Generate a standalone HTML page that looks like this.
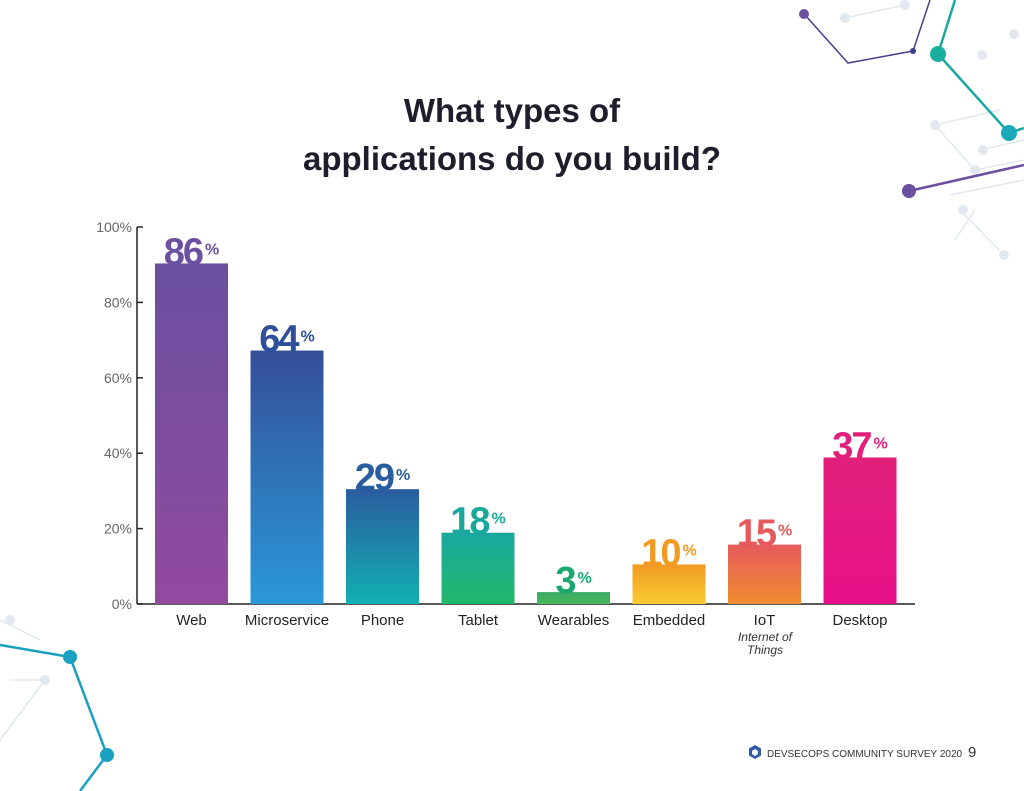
<!DOCTYPE html>
<html><head><meta charset="utf-8"><style>
html,body{margin:0;padding:0;background:#fff;}
svg{display:block;font-family:"Liberation Sans",sans-serif;}
</style></head><body>
<svg width="1024" height="791" viewBox="0 0 1024 791">
<defs>
<linearGradient id="g0" x1="0" y1="0" x2="0" y2="1"><stop offset="0" stop-color="#6a4fa0"/><stop offset="1" stop-color="#924a9e"/></linearGradient>
<linearGradient id="g1" x1="0" y1="0" x2="0" y2="1"><stop offset="0" stop-color="#344f98"/><stop offset="1" stop-color="#2a98d8"/></linearGradient>
<linearGradient id="g2" x1="0" y1="0" x2="0" y2="1"><stop offset="0" stop-color="#2a5ca0"/><stop offset="1" stop-color="#12b0b0"/></linearGradient>
<linearGradient id="g3" x1="0" y1="0" x2="0" y2="1"><stop offset="0" stop-color="#1aa8a0"/><stop offset="1" stop-color="#22b86a"/></linearGradient>
<linearGradient id="g4" x1="0" y1="0" x2="0" y2="1"><stop offset="0" stop-color="#3aa868"/><stop offset="1" stop-color="#48b858"/></linearGradient>
<linearGradient id="g5" x1="0" y1="0" x2="0" y2="1"><stop offset="0" stop-color="#f29a22"/><stop offset="1" stop-color="#f8cc30"/></linearGradient>
<linearGradient id="g6" x1="0" y1="0" x2="0" y2="1"><stop offset="0" stop-color="#e65a5c"/><stop offset="1" stop-color="#f08c30"/></linearGradient>
<linearGradient id="g7" x1="0" y1="0" x2="0" y2="1"><stop offset="0" stop-color="#e0207a"/><stop offset="1" stop-color="#e8108a"/></linearGradient>
</defs>
<g fill="none">
<g stroke="#e2e8f0" stroke-width="1.5">
<path d="M845 18 L905 5 M935 125 L1000 110 M950 195 L1024 180 M955 240 L975 210 M935 125 L975 170 L1024 160 M980 150 L1024 140 M1004 255 L960 210"/>
<path d="M0 620 L40 640 M10 680 L45 680 M0 740 L45 680"/>
</g>
<g fill="#e2e8f0"><circle cx="845" cy="18" r="5"/><circle cx="905" cy="5" r="5"/><circle cx="935" cy="125" r="5"/><circle cx="982" cy="55" r="5"/><circle cx="1014" cy="34" r="5"/><circle cx="963" cy="210" r="5"/><circle cx="1004" cy="255" r="5"/><circle cx="983" cy="150" r="5"/><circle cx="975" cy="170" r="5"/><circle cx="45" cy="680" r="5"/><circle cx="10" cy="620" r="5"/></g>
<path d="M805 15 L848 63 L913 51 L930 0" stroke="#4a3f8f" stroke-width="1.5"/>
<circle cx="804" cy="14" r="5" fill="#6b4fa0"/><circle cx="913" cy="51" r="3" fill="#3a3f8f"/>
<path d="M938 54 L955 0 M938 54 L1009 133 L1024 128" stroke="#1aa8a0" stroke-width="2.5"/>
<circle cx="938" cy="54" r="8" fill="#1aaea0"/><circle cx="1009" cy="133" r="8" fill="#1aaab8"/>
<path d="M909 191 L1024 165" stroke="#6b4fa0" stroke-width="2.5"/><circle cx="909" cy="191" r="7" fill="#6b4fa0"/>
<path d="M0 645 L70 657 L107 755 L80 791" stroke="#1aa0c0" stroke-width="2.5"/>
<circle cx="70" cy="657" r="7" fill="#1aa0c0"/><circle cx="107" cy="755" r="7" fill="#1aa0c0"/>
</g>
<text x="512" y="122" text-anchor="middle" font-size="33" font-weight="bold" fill="#1d1d2b">What types of</text>
<text x="512" y="170" text-anchor="middle" font-size="33" font-weight="bold" fill="#1d1d2b">applications do you build?</text>
<g id="axes"></g>
<g id="bars"></g>
<text x="738" y="657" text-anchor="middle" font-size="12" font-style="italic" fill="#333"><tspan x="765" y="641">Internet of</tspan><tspan x="765" y="654">Things</tspan></text>
<g>
<polygon points="755,745 761,748.5 761,755.5 755,759 749,755.5 749,748.5" fill="#2f5aa8"/>
<polygon points="755,749 758,751 758,754 755,756 752,754 752,751" fill="#fff"/>
<text x="767" y="757" font-size="10" fill="#333">DEVSECOPS COMMUNITY SURVEY 2020</text>
<text x="968" y="757" font-size="15" fill="#333">9</text>
</g>
</svg>
<script>
const categories = ["Web","Microservice","Phone","Tablet","Wearables","Embedded","IoT","Desktop"];
const values = [86,64,29,18,3,10,15,37];
const labelColors = ["#6b4fa0","#2f4f9a","#2a5ca0","#1aa89a","#1aa870","#f29a22","#e65a5c","#e0207a"];
const tickValues = [0,20,40,60,80,100];
const tickLabels = ["0%","20%","40%","60%","80%","100%"];
const NS="http://www.w3.org/2000/svg";
const y0=604;
function yTick(v){return y0 - v*3.77;}
function yBar(v){return y0 - v*3.96;}
function xBar(i){return 155 + i*95.5;}
const bw=73;
function mk(tag,attrs,parent){const e=document.createElementNS(NS,tag);for(const k in attrs)e.setAttribute(k,attrs[k]);parent.appendChild(e);return e;}
const ax=document.getElementById('axes');
let l=mk('line',{x1:137,y1:yTick(100),x2:137,y2:y0,stroke:'#222','stroke-width':1.5},ax);


l=mk('line',{x1:137,y1:y0,x2:915,y2:y0,stroke:'#222','stroke-width':1.5},ax);


tickValues.forEach((v,i)=>{
  const t=mk('line',{x1:137,y1:yTick(v),x2:143,y2:yTick(v),stroke:'#222','stroke-width':1.5},ax);
  
  
  const tx=mk('text',{x:132,y:yTick(v)+5,'text-anchor':'end','font-size':14,fill:'#666'},ax);
  tx.textContent=tickLabels[i];
  
  
});
const bg=document.getElementById('bars');
values.forEach((v,i)=>{
  const x=xBar(i), yt=yBar(v);
  const r=mk('rect',{x:x,y:yt,width:bw,height:y0-yt,fill:'url(#g'+i+')'},bg);
  
  
  const t=mk('text',{x:x+bw/2,y:yt+1,'text-anchor':'middle','font-size':38,'font-weight':'bold',fill:labelColors[i],'letter-spacing':'-2'},bg);
  t.textContent=v;
  const p=mk('tspan',{'font-size':16,'dx':3,'dy':-10,'letter-spacing':0},t);
  p.textContent='%';
  
  
  const c=mk('text',{x:x+bw/2,y:625,'text-anchor':'middle','font-size':15,fill:'#222'},bg);
  c.textContent=categories[i];
  
  
});
</script>
</body></html>
